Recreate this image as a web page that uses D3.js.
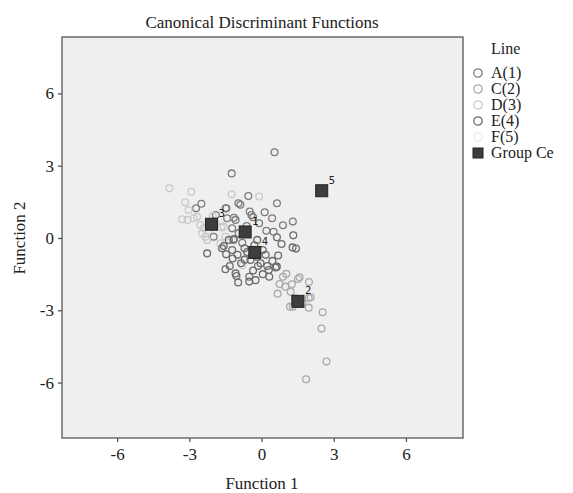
<!DOCTYPE html>
<html>
<head>
<meta charset="utf-8">
<script src="https://cdn.jsdelivr.net/npm/d3@7"></script>
<style>
  body { margin: 0; background: #fff; }
  text { font-family: "Liberation Serif", "Times New Roman", serif; fill: #222; }
</style>
</head>
<body>
<script>
var Width = 573;
var Height = 493;

// group names and colours as in legend
var groupNames = ["A(1)", "C(2)", "D(3)", "E(4)", "F(5)"];
var groupColors = ["#7c7c7c", "#aaaaaa", "#c9c9c9", "#6c6c6c", "#ebebeb"];

// cases, per group (function 1, function 2)
var aX = [0.54, -1.24, -0.55, 0.64, -2.5, -2.72, -0.96, -0.88, -1.49, -0.49, 0.13, -1.15, -1.08, -0.42, -0.35, -0.1, 0.44, 1.3, 0.89, 0.5, -1.46, -1.43, -1.22, -1.17, -0.8, -1.99, -0.62, 0.2, -1.9, -0.95];
var aY = [3.56, 2.68, 1.74, 1.44, 1.42, 1.23, 1.44, 1.38, 1.23, 1.1, 1.07, 0.84, 0.75, 0.95, 0.86, 0.61, 0.82, 0.68, 0.53, 0.26, 1.23, 0.82, 0.4, -0.08, -0.2, 0.05, 0.5, 0.3, 0.95, 0.2];

var cX = [1.03, 0.89, 1.51, 1.97, 0.75, 0.99, 1.26, 1.21, 0.67, 1.96, 2.04, 1.18, 1.3, 1.96, 2.54, 2.49, 2.7, 1.85, 1.58, 1.4, 1.7, 0.63];
var cY = [-1.49, -1.61, -1.7, -1.83, -1.91, -2.02, -1.92, -2.23, -2.31, -2.49, -2.46, -2.85, -2.85, -2.89, -3.08, -3.76, -5.13, -5.86, -1.63, -2.5, -2.7, -1.19];

var dX = [-3.83, -2.92, -3.17, -3.03, -2.03, -3.3, -3.07, -2.82, -2.68, -2.54, -2.4, -2.47, -2.33, -2.26, -1.67, -1.57, -1.5, -1.71, -1.24, -0.1, -0.79, -2.2, -1.9];
var dY = [2.06, 1.92, 1.48, 1.16, 0.91, 0.78, 0.75, 0.82, 0.88, 0.54, 0.4, 0.2, 0.05, -0.08, 0.44, 0.47, 0.05, -0.22, 1.81, 1.72, -1.13, 0.3, 0.6];

var eX = [0.64, 1.32, -0.18, -1.57, -1.64, -1.22, -0.71, -0.6, -2.26, 0.83, 1.29, 1.43, 0.17, 0.69, -1.47, -1.32, -1.08, -1.04, -0.97, -0.51, -0.51, -0.46, -0.18, -0.04, 0.24, 0.58, -0.15, 0.3, 0.32, 0.63, -1.36, -1.15, -0.3, 0.05, -1.2, -0.85, -0.7, -1.5, -0.35, 0.05, -1.0, -0.25, 0.45];
var eY = [0.03, 0.11, -0.08, -0.33, -0.43, -0.5, -0.43, -0.58, -0.64, -0.25, -0.39, -0.44, -0.7, -0.73, -0.68, -1.16, -1.47, -1.58, -1.85, -1.61, -1.81, -0.91, -0.78, -1.05, -1.16, -1.22, -1.16, -1.33, -1.61, -1.19, -0.08, -0.04, -0.3, -0.5, -0.85, -1.05, -0.9, -1.3, -1.35, -1.5, -0.7, -1.75, -0.95];

var fX = [2.5];
var fY = [1.96];

// group centroids
var centLabels = ["1", "2", "3", "4", "5"];
var centX = [-0.68, 1.51, -2.08, -0.28, 2.5];
var centY = [0.25, -2.63, 0.57, -0.6, 1.96];

var tickValues = [-6, -3, 0, 3, 6];

var svg = d3.select("body").append("svg")
  .attr("width", Width)
  .attr("height", Height);

var x = d3.scaleLinear().domain([-8.29, 8.37]).range([62, 463]);
var y = d3.scaleLinear().domain([-8.3, 8.34]).range([438, 37]);

// plot area
svg.append("rect")
  .attr("x", x(-8.29)).attr("y", y(8.34))
  .attr("width", x(8.37) - x(-8.29))
  .attr("height", y(-8.3) - y(8.34))
  .attr("fill", "#efefef")
  .attr("stroke", "#555")
  .attr("stroke-width", 1.3);

var xAxis = svg.append("g")
  .attr("transform", "translate(0," + y(-8.3) + ")")
  .call(d3.axisBottom(x).tickValues(tickValues).tickSize(4).tickPadding(6).tickFormat(d3.format("d")));
var yAxis = svg.append("g")
  .attr("transform", "translate(" + x(-8.29) + ",0)")
  .call(d3.axisLeft(y).tickValues(tickValues).tickSize(4).tickPadding(4).tickFormat(d3.format("d")));

[xAxis, yAxis].forEach(function (g) {
  g.select(".domain").remove();
  g.selectAll(".tick line").attr("stroke", "#555").attr("stroke-width", 1.3);
  g.selectAll(".tick text")
    .style("font-family", "'Liberation Serif', serif")
    .style("font-size", "17px")
    .attr("fill", "#222");
});
// minus sign as plain hyphen
svg.selectAll(".tick text").text(function (d) { return String(d); });

// points
var groups = [[aX, aY], [cX, cY], [dX, dY], [eX, eY], [fX, fY]];
var cases = [];
groups.forEach(function (g, gi) {
  g[0].forEach(function (v, i) { cases.push({ g: gi, x: v, y: g[1][i] }); });
});

svg.append("g").selectAll("circle")
  .data(cases)
  .enter()
  .append("circle")
  .attr("cx", function (d) { return x(d.x); })
  .attr("cy", function (d) { return y(d.y); })
  .attr("r", 3.4)
  .attr("fill", "none")
  .attr("stroke", function (d) { return groupColors[d.g]; })
  .attr("stroke-width", 1.3);

// centroids
var cents = centX.map(function (v, i) { return { x: v, y: centY[i], label: centLabels[i] }; });
var cg = svg.append("g");
cg.selectAll("rect")
  .data(cents)
  .enter()
  .append("rect")
  .attr("x", function (d) { return x(d.x) - 6; })
  .attr("y", function (d) { return y(d.y) - 6; })
  .attr("width", 12).attr("height", 12)
  .attr("fill", "#3d3d3d")
  .attr("stroke", "#222")
  .attr("stroke-width", 1);
cg.selectAll("text")
  .data(cents)
  .enter()
  .append("text")
  .attr("x", function (d) { return x(d.x) + 7; })
  .attr("y", function (d) { return y(d.y) - 7; })
  .style("font-family", "'DejaVu Sans', sans-serif")
  .style("font-size", "10px")
  .attr("fill", "#222")
  .text(function (d) { return d.label; });

// titles
svg.append("text")
  .attr("x", 262).attr("y", 28)
  .attr("text-anchor", "middle")
  .style("font-size", "17px")
  .text("Canonical Discriminant Functions");
svg.append("text")
  .attr("x", 262).attr("y", 489)
  .attr("text-anchor", "middle")
  .style("font-size", "17px")
  .text("Function 1");
svg.append("text")
  .attr("transform", "translate(25,238) rotate(-90)")
  .attr("text-anchor", "middle")
  .style("font-size", "17px")
  .text("Function 2");

// legend
var leg = svg.append("g");
leg.append("text").attr("x", 491).attr("y", 54).style("font-size", "16px").text("Line");
var legItems = groupNames.map(function (n, i) { return { name: n, color: groupColors[i], sq: false }; });
legItems.push({ name: "Group Ce", color: "#3d3d3d", sq: true });
var row = leg.selectAll("g.item")
  .data(legItems)
  .enter()
  .append("g")
  .attr("class", "item")
  .attr("transform", function (d, i) { return "translate(0," + (78 + i * 16) + ")"; });
row.filter(function (d) { return !d.sq; })
  .append("circle")
  .attr("cx", 478).attr("cy", -5).attr("r", 4.2)
  .attr("fill", "none")
  .attr("stroke", function (d) { return d.color; })
  .attr("stroke-width", 1.3);
row.filter(function (d) { return d.sq; })
  .append("rect")
  .attr("x", 473).attr("y", -10).attr("width", 10).attr("height", 10)
  .attr("fill", "#3d3d3d").attr("stroke", "#222");
row.append("text")
  .attr("x", 491).attr("y", 0)
  .style("font-size", "16px")
  .text(function (d) { return d.name; });
</script>
</body>
</html>
